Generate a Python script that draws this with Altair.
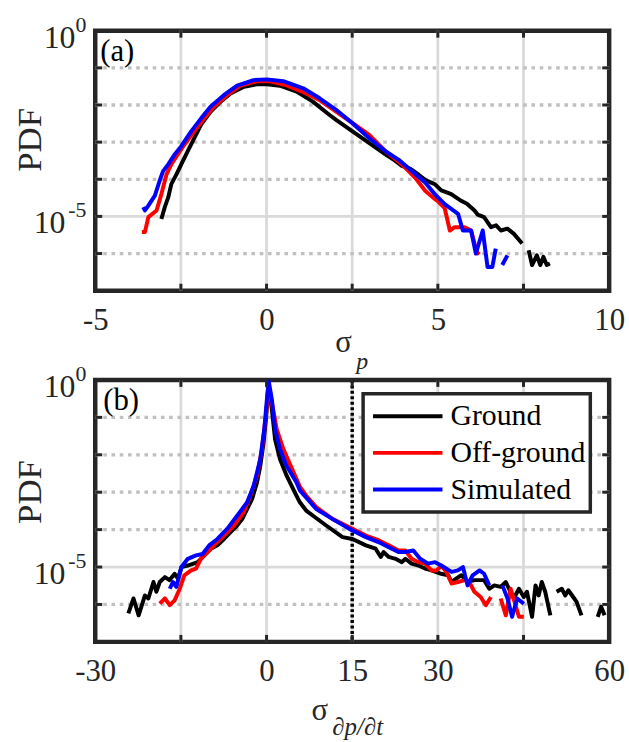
import altair as alt
import pandas as pd

FONT = "'Liberation Serif', 'Times New Roman', serif"
FRAME = "#262626"

series_names = ["Ground", "Off-ground", "Simulated"]
series_colors = ["#000000", "#ff0000", "#0000ff"]

# ---------------- panel (a): sigma_p ----------------
# x values, log10(PDF) values, segment id (gaps where PDF = 0)
a_ground_x = [-3.07, -2.97, -2.87, -2.78, -2.63, -2.49, -2.30, -2.11, -1.91, -1.63,
              -1.34, -1.05, -0.66, -0.28, 0.01, 0.39, 0.88, 1.35, 1.84, 2.03,
              2.51, 2.99, 3.47, 3.75, 3.95, 4.20, 4.43, 4.65, 4.91, 5.10,
              5.39, 5.55, 5.68, 5.85, 6.07, 6.16, 6.35, 6.55, 6.70, 6.84,
              7.03, 7.22, 7.46,
              7.65, 7.75, 7.89, 7.99, 8.08, 8.18, 8.27]
a_ground_e = [-5.07, -4.75, -4.49, -4.13, -3.87, -3.60, -3.24, -2.89, -2.53, -2.18,
              -1.91, -1.69, -1.51, -1.44, -1.44, -1.48, -1.64, -1.91, -2.27, -2.40,
              -2.71, -3.02, -3.33, -3.50, -3.64, -3.72, -3.87, -4.03, -4.13, -4.30,
              -4.40, -4.50, -4.58, -4.66, -4.84, -4.95, -5.02, -5.29, -5.24, -5.38,
              -5.33, -5.47, -5.73,
              -5.91, -6.31, -6.05, -6.31, -6.09, -6.31, -6.27]
a_ground_seg = [1] * 43 + [2] * 7

a_off_x = [-3.64, -3.55, -3.45, -3.21, -3.07, -2.92, -2.78, -2.59, -2.40, -2.11,
           -1.82, -1.53, -1.14, -0.76, -0.28, 0.11, 0.59, 1.16, 1.55, 2.03,
           2.51, 2.99, 3.47, 3.95, 4.34, 4.63, 4.91, 5.01, 5.20, 5.35,
           5.49, 5.78, 5.97, 6.07, 6.16, 6.21]
a_off_e = [-5.42, -5.42, -5.02, -4.84, -4.40, -3.87, -3.60, -3.33, -3.07, -2.71,
           -2.36, -2.04, -1.73, -1.48, -1.36, -1.36, -1.47, -1.69, -1.87, -2.18,
           -2.49, -2.80, -3.24, -3.60, -3.96, -4.31, -4.53, -4.60, -4.78, -5.38,
           -5.29, -5.29, -5.38, -5.73, -6.00, -5.95]
a_off_seg = [1] * 36

a_sim_x = [-3.60, -3.55, -3.45, -3.26, -3.12, -3.02, -2.87, -2.68, -2.49, -2.20,
           -1.91, -1.63, -1.24, -0.86, -0.38, 0.01, 0.49, 1.07, 1.55, 2.03,
           2.51, 2.99, 3.47, 3.85, 4.24, 4.63, 4.91, 5.20, 5.59, 5.73,
           5.97, 6.11, 6.31, 6.45, 6.59, 6.69,
           6.88, 7.03]
a_sim_e = [-4.75, -4.84, -4.71, -4.44, -4.04, -3.78, -3.60, -3.33, -3.11, -2.71,
           -2.36, -2.04, -1.73, -1.48, -1.33, -1.31, -1.36, -1.55, -1.82, -2.13,
           -2.49, -2.89, -3.24, -3.47, -3.78, -4.09, -4.40, -4.67, -4.93, -5.38,
           -5.38, -6.00, -5.38, -6.36, -6.36, -5.87,
           -6.31, -6.05]
a_sim_seg = [1] * 36 + [2] * 2

# ---------------- panel (b): sigma_dp/dt ----------------
b_ground_x = [-24.2, -23.3, -22.4, -21.3, -20.7, -19.8, -19.3, -18.7, -17.8, -17.0,
              -16.1, -15.5, -14.9, -13.8, -12.05, -10.9, -9.75, -8.6, -7.45, -6.3,
              -5.15, -4.27, -3.4, -2.53, -1.67, -1.1, -0.52, -0.06, 0.34, 0.93,
              1.5, 2.36, 3.52, 4.67, 5.83, 7.0, 8.14, 10.45, 13.3, 15.05,
              17.4, 19.1, 20.0, 20.5, 21.4, 22.6, 23.7, 24.3, 25.4, 26.6,
              27.75, 28.9, 30.6, 31.8, 32.4, 33.2, 34.1, 35.2, 36.4, 38.1,
              39.0, 39.9, 41.0, 41.9, 42.45, 43.3, 44.2, 45.05, 45.6, 46.5,
              47.1, 47.65, 48.2, 48.8, 49.7,
              50.8, 51.7, 52.3, 52.85, 53.7, 54.3, 55.15,
              58.0, 58.6, 59.2]
b_ground_e = [-6.24, -5.84, -6.29, -5.76, -5.84, -5.40, -5.66, -5.40, -5.27, -5.35,
              -5.18, -5.31, -5.00, -4.96, -4.87, -4.69, -4.51, -4.42, -4.25, -4.07,
              -3.89, -3.72, -3.45, -3.18, -2.74, -2.30, -1.68, -0.97, -0.10, -0.79,
              -1.59, -2.12, -2.56, -2.92, -3.27, -3.50, -3.63, -3.89, -4.20, -4.25,
              -4.42, -4.51, -4.73, -4.60, -4.73, -4.78, -4.87, -4.78, -4.91, -4.96,
              -5.04, -5.09, -5.18, -5.22, -5.40, -5.31, -5.22, -5.40, -5.35, -5.35,
              -5.58, -5.49, -5.53, -5.40, -5.58, -5.84, -5.58, -5.80, -5.66, -6.33,
              -5.49, -5.76, -5.40, -5.66, -6.29,
              -5.66, -5.58, -5.76, -5.62, -5.80, -5.93, -6.29,
              -6.33, -6.06, -6.29]
b_ground_seg = [1] * 75 + [2] * 7 + [3] * 3

b_off_x = [-18.7, -17.8, -16.95, -16.1, -15.2, -14.4, -13.2, -12.35, -11.5, -10.3,
           -9.2, -7.45, -5.7, -4.0, -2.83, -1.67, -0.8, -0.06, 0.34, 0.93,
           1.79, 2.94, 4.67, 5.83, 7.0, 8.7, 11.6, 14.5, 17.4, 19.7,
           21.4, 23.1, 24.3, 25.4, 26.6, 27.75, 28.9, 29.8, 30.6, 31.5,
           32.4, 33.5, 34.7, 35.5, 36.4, 37.5, 38.4, 39.3,
           41.0, 41.9, 42.75, 43.6, 44.2, 45.05]
b_off_e = [-5.98, -5.84, -6.02, -5.89, -5.58, -5.22, -5.09, -5.04, -4.78, -4.60,
           -4.42, -4.16, -3.89, -3.54, -3.09, -2.56, -1.85, -0.88, -0.15, -0.61,
           -1.32, -1.85, -2.45, -2.85, -3.10, -3.40, -3.72, -3.94, -4.16, -4.29,
           -4.42, -4.56, -4.56, -4.78, -4.87, -4.91, -5.09, -5.09, -4.96, -5.13,
           -5.44, -5.40, -5.35, -5.40, -5.66, -5.80, -6.02, -5.80,
           -5.84, -6.29, -5.58, -6.02, -6.33, -6.33]
b_off_seg = [1] * 48 + [2] * 6

b_sim_x = [-16.95, -16.4, -15.8, -14.9, -13.8, -12.35, -11.2, -10.05, -8.6, -6.9,
           -5.15, -3.4, -2.25, -1.1, -0.4, 0.06, 0.4, 0.93, 1.5, 2.36,
           3.52, 5.25, 5.83, 7.0, 8.7, 11.6, 14.5, 17.4, 19.7, 21.4,
           23.1, 24.3, 25.7, 26.9, 28.3, 29.5, 30.6, 32.4, 33.5, 34.4,
           35.2, 36.1, 37.3, 38.1, 39.0,
           41.3, 42.2, 43.0, 43.9, 45.05]
b_sim_e = [-5.58, -5.40, -5.53, -5.00, -4.78, -4.69, -4.65, -4.42, -4.25, -3.98,
           -3.63, -3.27, -2.83, -2.12, -1.32, -0.52, -0.05, -0.52, -1.32, -1.85,
           -2.30, -2.74, -2.95, -3.15, -3.45, -3.72, -3.98, -4.20, -4.34, -4.47,
           -4.60, -4.60, -4.56, -4.78, -4.91, -4.87, -4.96, -5.13, -5.09, -5.00,
           -5.49, -5.22, -5.09, -5.18, -5.49,
           -5.49, -5.84, -6.33, -5.84, -5.98]
b_sim_seg = [1] * 45 + [2] * 5

# axes / ticks
a_xdomain = [-5, 10]
a_xlabels = [-5, 0, 5, 10]
a_xgrid = [-2.5, 0, 2.5, 5, 7.5]
b_xdomain = [-30, 60]
b_xlabels = [-30, 0, 15, 30, 60]
b_xgrid = [-15, 0, 15, 30, 45]
b_threshold = [15]
y_domain = [1e-7, 1]
y_decades = [1e-1, 1e-2, 1e-3, 1e-4, 1e-5, 1e-6]
y_dotted = [1e-1, 1e-2, 1e-3, 1e-4, 1e-6]
y_solid = [1e-5]
y_label_values = [1, 1e-5]
y_label_base = ["10", "10"]
y_label_exp = ["0", "-5"]


def build_df(xs_list, es_list, seg_list):
    frames = []
    for name, xs, es, segs in zip(series_names, xs_list, es_list, seg_list):
        assert len(xs) == len(es) == len(segs), name
        frames.append(pd.DataFrame({
            "x": xs,
            "pdf": [10.0 ** e for e in es],
            "series": name,
            "seg": [f"{name}-{s}" for s in segs],
        }))
    return pd.concat(frames, ignore_index=True)


a_df = build_df([a_ground_x, a_off_x, a_sim_x], [a_ground_e, a_off_e, a_sim_e],
                [a_ground_seg, a_off_seg, a_sim_seg])
b_df = build_df([b_ground_x, b_off_x, b_sim_x], [b_ground_e, b_off_e, b_sim_e],
                [b_ground_seg, b_off_seg, b_sim_seg])

W = 518


def panel(df, xdomain, xlabels, xgrid, H, tag, pdf_y, xtitle_layers, legend, extra=None):
    xs = alt.Scale(domain=xdomain, nice=False, zero=False)
    ys = alt.Scale(type="log", domain=y_domain, nice=False)
    xaxis = alt.Axis(values=xlabels, grid=False, ticks=False, domain=False,
                     labelFont=FONT, labelFontSize=31, labelColor=FRAME,
                     labelPadding=15, labelExpr="'' + datum.value", labelFlush=False,
                     title=None)

    def X(field):
        return alt.X(field, type="quantitative", scale=xs, axis=xaxis, title=None)

    def Y(field):
        return alt.Y(field, type="quantitative", scale=ys, axis=None, title=None)

    grid_df = pd.DataFrame({"v": xgrid})
    dot_df = pd.DataFrame({"v": y_dotted})
    solid_df = pd.DataFrame({"v": y_solid})
    dec_df = pd.DataFrame({"v": y_decades})

    layers = []
    layers.append(alt.Chart(grid_df).mark_rule(color="#dadada", strokeWidth=2.8).encode(x=X("v")))
    layers.append(alt.Chart(solid_df).mark_rule(color="#dadada", strokeWidth=2.8).encode(y=Y("v")))
    layers.append(alt.Chart(dot_df).mark_rule(color="#c0c0c0", strokeWidth=3.3, strokeDash=[3.6, 4.7]).encode(y=Y("v")))
    if extra is not None:
        layers.append(extra(X))

    layers.append(alt.Chart(df).mark_line(strokeWidth=4, strokeJoin="round").encode(
        x=X("x"),
        y=Y("pdf"),
        color=alt.Color("series:N", scale=alt.Scale(domain=series_names, range=series_colors),
                        legend=legend),
        detail="seg:N",
    ))
    # inward ticks
    tk = dict(color=FRAME, strokeWidth=3)
    layers.append(alt.Chart(grid_df).mark_rule(**tk).encode(x=X("v"), y=alt.value(0), y2=alt.value(7)))
    layers.append(alt.Chart(grid_df).mark_rule(**tk).encode(x=X("v"), y=alt.value(H), y2=alt.value(H - 7)))
    layers.append(alt.Chart(dec_df).mark_rule(**tk).encode(y=Y("v"), x=alt.value(0), x2=alt.value(7)))
    layers.append(alt.Chart(dec_df).mark_rule(**tk).encode(y=Y("v"), x=alt.value(W), x2=alt.value(W - 7)))

    # y tick labels 10^k
    ylab = pd.DataFrame({"v": y_label_values, "base": y_label_base, "exp": y_label_exp})
    layers.append(alt.Chart(ylab).mark_text(align="right", baseline="alphabetic", dy=1,
                                            font=FONT, fontSize=22, color=FRAME).encode(
        y=Y("v"), x=alt.value(-9), text="exp:N"))
    layers.append(alt.Chart(ylab.iloc[[0]]).mark_text(align="right", baseline="alphabetic", dy=17,
                                                      font=FONT, fontSize=32, color=FRAME).encode(
        y=Y("v"), x=alt.value(-20), text="base:N"))
    layers.append(alt.Chart(ylab.iloc[[1]]).mark_text(align="right", baseline="alphabetic", dy=17,
                                                      font=FONT, fontSize=32, color=FRAME).encode(
        y=Y("v"), x=alt.value(-30), text="base:N"))
    # y title
    layers.append(alt.Chart(pd.DataFrame({"t": ["PDF"]})).mark_text(
        angle=270, align="center", baseline="middle", font=FONT, fontSize=35, color=FRAME).encode(
        x=alt.value(-66), y=alt.value(pdf_y), text="t:N"))
    # panel tag
    layers.append(alt.Chart(pd.DataFrame({"t": [tag[0]]})).mark_text(
        align="left", baseline="alphabetic", font=FONT, fontSize=31, color="#000000").encode(
        x=alt.value(tag[1]), y=alt.value(tag[2]), text="t:N"))
    # x title pieces
    for (txt, px, py, fs, style) in xtitle_layers:
        layers.append(alt.Chart(pd.DataFrame({"t": [txt]})).mark_text(
            align="left", baseline="middle", font=FONT, fontSize=fs, fontStyle=style,
            color=FRAME).encode(x=alt.value(px), y=alt.value(py), text="t:N"))

    return alt.layer(*layers).properties(width=W, height=H)


a_title = [("σ", 242, 315, 31, "normal"), ("p", 263, 334, 24, "italic")]
b_title = [("σ", 218, 334, 31, "normal"), ("∂p/∂t", 239, 350, 25, "italic")]


def threshold_layer(X):
    return alt.Chart(pd.DataFrame({"v": b_threshold})).mark_rule(
        color="#000000", strokeWidth=3.5, strokeDash=[3, 2.5]).encode(x=X("v"))


legend_b = alt.Legend(orient="none", legendX=270, legendY=14, title=None,
                      symbolType="stroke", symbolSize=4900, symbolStrokeWidth=4,
                      labelFont=FONT, labelFontSize=30, labelColor="#000000",
                      clipHeight=37, rowPadding=0, padding=4, labelOffset=6,
                      symbolOffset=4, strokeColor=FRAME,
                      fillColor="#ffffff", labelLimit=300)

top = panel(a_df, a_xdomain, a_xlabels, a_xgrid, 262, ("(a)", 5, 31), 110, a_title, None)
bottom = panel(b_df, b_xdomain, b_xlabels, b_xgrid, 264, ("(b)", 8, 30), 113, b_title, legend_b,
               extra=threshold_layer)

chart = alt.vconcat(top, bottom, spacing=90, bounds="flush").resolve_scale(
    color="independent").resolve_legend(color="independent").properties(
    padding={"left": 10, "top": 8, "right": 2, "bottom": 2}
).configure_view(stroke=FRAME, strokeWidth=4.5).configure_legend(strokeWidth=3.5)

chart.save("out.html", embed_options={"renderer": "svg", "actions": False})
